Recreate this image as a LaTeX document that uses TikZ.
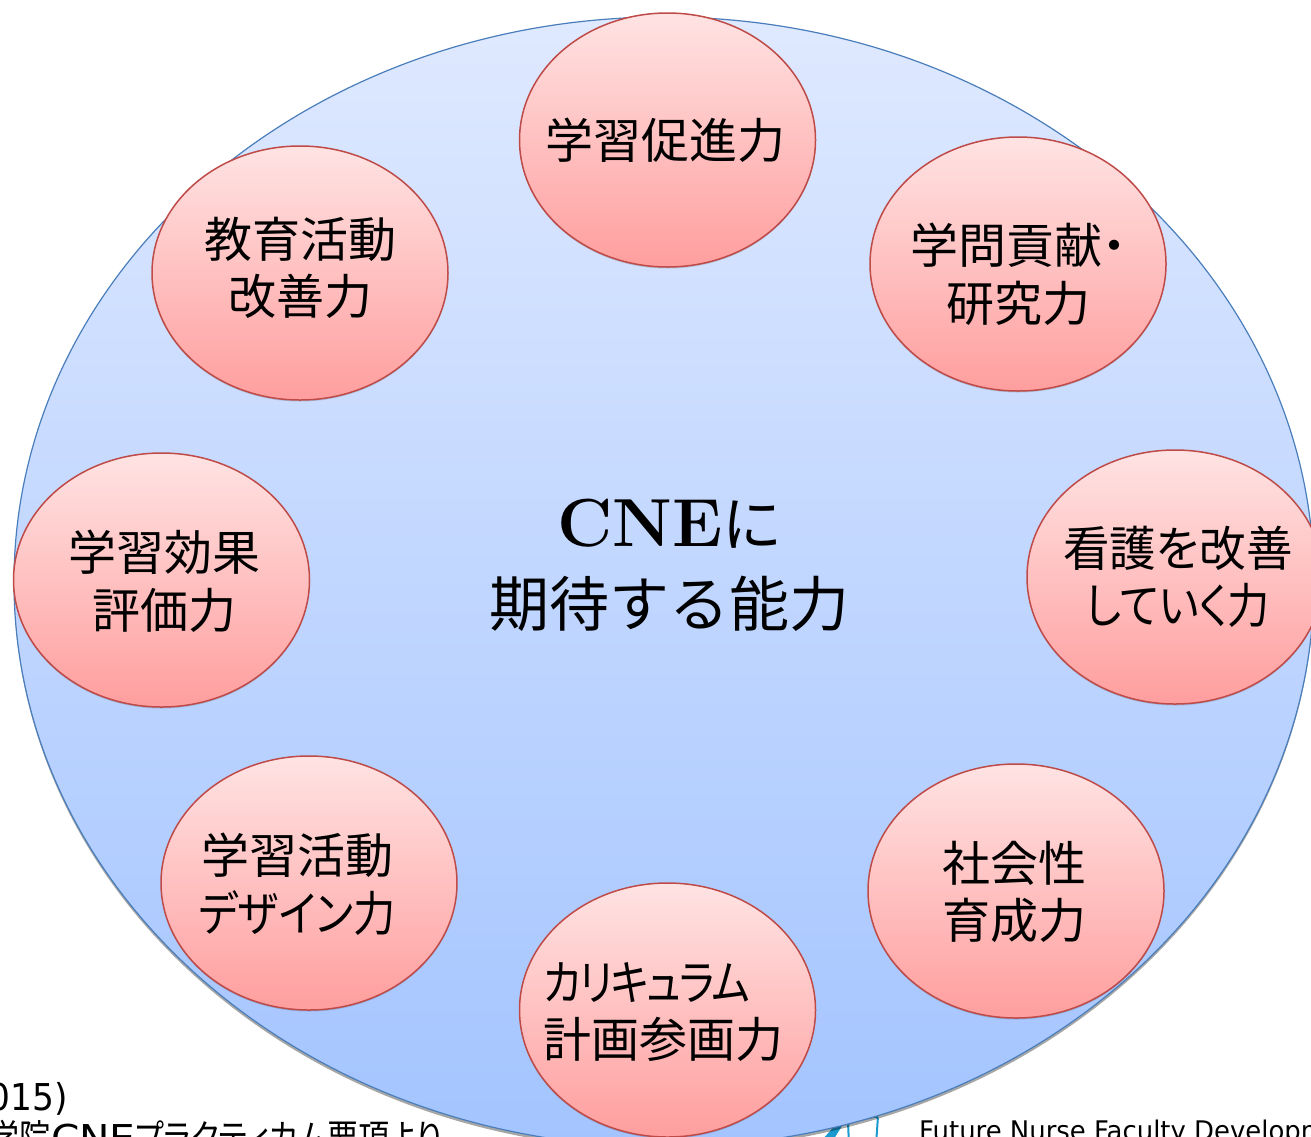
\documentclass[tikz,border=0pt]{standalone}
\usepackage{fontspec}
\usetikzlibrary{shapes.geometric,shadows}
\newfontfamily\jpfont{Noto Sans CJK JP}[RawFeature=+palt]
\newfontfamily\jpfull{Noto Sans CJK JP}
\newfontfamily\jptight{Noto Sans CJK JP}[RawFeature=+palt,FakeStretch=.85,LetterSpace=-4]
\newfontfamily\jpslim{Noto Sans CJK JP}[RawFeature=+palt,FakeStretch=.88]
\newfontfamily\jpnote{Noto Sans CJK JP}[RawFeature=+palt,FakeStretch=.84]
\newfontfamily\jpnear{Noto Sans CJK JP}[RawFeature=+palt,FakeStretch=.97]
\newfontfamily\latinsans{DejaVu Sans}[FakeStretch=.93]
\newfontfamily\latinwide{DejaVu Sans}[FakeStretch=1.1]
\newfontfamily\latinfoot{DejaVu Sans}[FakeStretch=.96]
\definecolor{outerline}{HTML}{4A7EBB}
\definecolor{outertop}{HTML}{DFE9FF}
\definecolor{outerbot}{HTML}{A3C4FF}
\definecolor{innerline}{HTML}{BE4B48}
\definecolor{innertop}{HTML}{FFE3E3}
\definecolor{innerbot}{HTML}{FF9E9E}
\definecolor{logoblue}{HTML}{1B9AD0}
\tikzset{
  outerdisc/.style={ellipse,draw=outerline,line width=1.2pt,top color=outertop,bottom color=outerbot,
    minimum width=1300pt,minimum height=1130pt,inner sep=0pt,
    drop shadow={shadow xshift=0pt,shadow yshift=-3pt,opacity=.35,fill=black}},
  skill/.style={ellipse,draw=innerline,line width=1.5pt,top color=innertop,bottom color=innerbot,
    minimum width=296pt,minimum height=254pt,inner sep=0pt,
    drop shadow={shadow xshift=0pt,shadow yshift=-1.5pt,opacity=.15,fill=black}},
  skilltext/.style={inner sep=0pt,align=center,font=\fontsize{48}{57.5}\selectfont\jpfont},
  centertext/.style={align=center,inner sep=0pt,font=\fontsize{60}{80}\selectfont\jpfont},
  notetext/.style={anchor=base east,inner sep=0pt,font=\fontsize{37}{37}\selectfont\latinsans},
  foottext/.style={anchor=base west,inner sep=0pt,font=\fontsize{27}{27}\selectfont\latinfoot},
}
\begin{document}
\begin{tikzpicture}[x=1pt,y=-1pt]
\useasboundingbox (0,0) rectangle (1311,1136);
\clip (0,0) rectangle (1311,1136);
\node[notetext] (year) at (68,1110) {2015)};
\node[notetext] (source) at (442,1151) {{\jpnote 大学院}{\latinwide CNE}{\jpnote プラクティカム要項より}};
\node[foottext] (foot) at (919,1140) {Future Nurse Faculty Development};
\draw[logoblue,line width=2pt,rounded corners=3pt] (849,1145) -- (848,1122) -- (878,1116) -- (876,1145);
\fill[logoblue] (822,1140) -- (838,1122) -- (842,1126) -- (832,1142) -- cycle;
\node[outerdisc] (outer) at (664,582) {};
\node[skill,label={[skilltext,xshift=-2.5pt]center:学習促進力}] (s1) at (667.5,140) {};
\node[skill,label={[skilltext,yshift=-10pt]center:学問貢献・\\研究力}] (s2) at (1018,264) {};
\node[skill,label={[skilltext,xshift=3pt]center:{\jpnear 看護を改善}\\{\jpslim していく力}}] (s3) at (1175,577) {};
\node[skill,label={[skilltext,xshift=-2pt,yshift=-1pt]center:社会性\\育成力}] (s4) at (1016,891) {};
\node[skill,label={[skilltext,align=left,xshift=-4pt,yshift=-2pt]center:{\jptight カリキュラム}\\計画参画力}] (s5) at (667.5,1010) {};
\node[skill,label={[skilltext,xshift=-12pt,yshift=-1pt]center:学習活動\\{\jpslim デザイン力}}] (s6) at (309,883) {};
\node[skill,label={[skilltext,xshift=3pt,yshift=-1pt]center:学習効果\\評価力}] (s7) at (161.5,580) {};
\node[skill,label={[skilltext,yshift=5pt]center:教育活動\\改善力}] (s8) at (300,273) {};
\node[centertext] (title) at (669,565) {{\normalfont\bfseries\fontsize{68}{80}\selectfont CNE}に\\{\jpfull 期待する能力}};
\end{tikzpicture}
\end{document}
